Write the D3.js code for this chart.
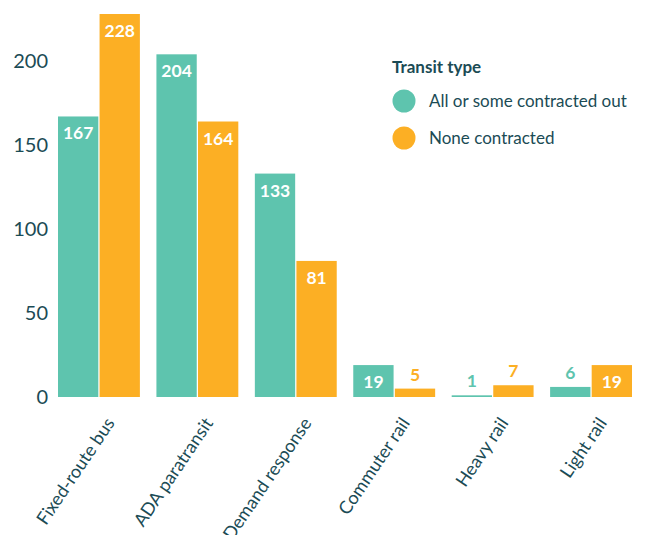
<!DOCTYPE html>
<html><head><meta charset="utf-8">
<script src="https://cdn.jsdelivr.net/npm/d3@7"></script>
<style>body{margin:0;background:#fff;} text{font-family:Lato,"Open Sans",sans-serif;}</style>
</head><body>
<svg id="chart" width="646" height="535"></svg>
<script>
const categories = ["Fixed-route bus","ADA paratransit","Demand response","Commuter rail","Heavy rail","Light rail"];
const seriesNames = ["All or some contracted out","None contracted"];
const contractedOut = [167,204,133,19,1,6];
const noneContracted = [228,164,81,5,7,19];
const yTicks = [0,50,100,150,200];
const colors = ["#5ec4ae","#fcaf24"];
const textColor = "#1b4b55";

const svg = d3.select("#chart");
const x0 = d3.scaleBand().domain(categories).range([58,632]).paddingInner(0.168).paddingOuter(0);
const x1 = d3.scaleBand().domain(seriesNames).range([0,x0.bandwidth()]).paddingInner(0.03);
const y = d3.scaleLinear().domain([0,228]).range([397,14]);
const color = d3.scaleOrdinal().domain(seriesNames).range(colors);

const rows = categories.map((c,i)=>({cat:c, vals:[
  {s:seriesNames[0], v:contractedOut[i]},
  {s:seriesNames[1], v:noneContracted[i]}]}));

// y axis labels
const yAxis = d3.axisLeft(y).tickValues(yTicks).tickSize(0).tickPadding(0);
const ya = svg.append("g").attr("transform","translate(48,0)").call(yAxis);
ya.select(".domain").remove();
ya.selectAll("text").attr("font-size",20).attr("fill",textColor)
  .style("font-family","Lato,'Open Sans',sans-serif");

const g = svg.append("g").selectAll("g").data(rows).join("g")
  .attr("transform",d=>`translate(${x0(d.cat)},0)`);
g.selectAll("rect").data(d=>d.vals).join("rect")
  .attr("x",d=>x1(d.s)).attr("width",x1.bandwidth())
  .attr("y",d=>y(d.v)).attr("height",d=>y(0)-y(d.v))
  .attr("fill",d=>color(d.s));
g.selectAll("text.val").data(d=>d.vals).join("text").attr("class","val")
  .attr("x",d=>x1(d.s)+x1.bandwidth()/2)
  .attr("y",d=>(y(0)-y(d.v))>25 ? y(d.v)+23 : y(d.v)-8)
  .attr("text-anchor","middle").attr("font-size",17.5).attr("font-weight",700)
  .attr("fill",d=>(y(0)-y(d.v))>25 ? "#fff" : color(d.s))
  .text(d=>d.v);

// x axis labels
const xa = svg.append("g").attr("transform","translate(0,405)")
  .call(d3.axisBottom(x0).tickSize(0).tickPadding(0));
xa.select(".domain").remove();
xa.selectAll("text").attr("font-size",18).attr("fill",textColor)
  .style("font-family","Lato,'Open Sans',sans-serif")
  .attr("text-anchor","end").attr("dy","0.7em").attr("y",0).attr("x",0)
  .attr("transform","translate(6,11) rotate(-56)");

// legend
const lg = svg.append("g").attr("transform","translate(392,0)");
lg.append("text").attr("x",0).attr("y",73).attr("font-size",17).attr("font-weight",700)
  .attr("fill",textColor).text("Transit type");
const li = lg.selectAll("g.item").data(seriesNames).join("g").attr("class","item")
  .attr("transform",(d,i)=>`translate(0,${101+i*37})`);
li.append("circle").attr("cx",12).attr("cy",0).attr("r",11.5).attr("fill",d=>color(d));
li.append("text").attr("x",37).attr("y",6).attr("font-size",17).attr("fill",textColor).text(d=>d);
</script>
</body></html>
